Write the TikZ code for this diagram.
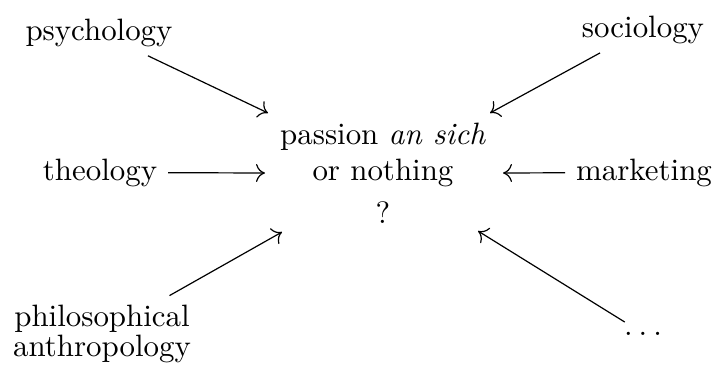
\documentclass[tikz,border=0pt]{standalone}
\usepackage{tikz}
\usetikzlibrary{arrows.meta}

\begin{document}
\begin{tikzpicture}[
  x=0.3333pt,y=-0.3333pt,
  field/.style={inner sep=2.5pt,font=\fontsize{10.3pt}{12pt}\selectfont},
  question/.style={field,align=center},
  twoline/.style={field,align=center,font=\fontsize{10.3pt}{9.8pt}\selectfont},
  arrow/.style={-{To[length=3pt,width=6pt]},line width=0.4pt,shorten <=1pt}]
\useasboundingbox (0,0) rectangle (715,365);
% last line of a multi-line node sits on the base anchor
\node[question,anchor=base] (passion) at (383,223) {passion \textit{an sich}\\or nothing\\[2.3pt]?};
\node[field,anchor=base] (psychology) at (99,40) {psychology};
\node[field,anchor=base] (sociology) at (643,37) {sociology};
\node[field,anchor=base] (theology) at (100,180) {theology};
\node[field,anchor=base] (marketing) at (644,180) {marketing};
\node[twoline,anchor=base] (philosophy) at (102,356) {philosophical\\anthropology};
\node[field,anchor=base] (others) at (643,335) {.\kern2pt.\kern2pt.};
\coordinate (psychology-tip) at (268,113);
\coordinate (sociology-tip) at (490,113);
\coordinate (theology-tip) at (265,173);
\coordinate (marketing-tip) at (503,173);
\coordinate (philosophy-tip) at (282,232);
\coordinate (others-tip) at (478,231);
\foreach \a in {psychology,sociology,theology,marketing,philosophy,others}
  \draw[arrow] (\a) -- (\a-tip);
\end{tikzpicture}
\end{document}
